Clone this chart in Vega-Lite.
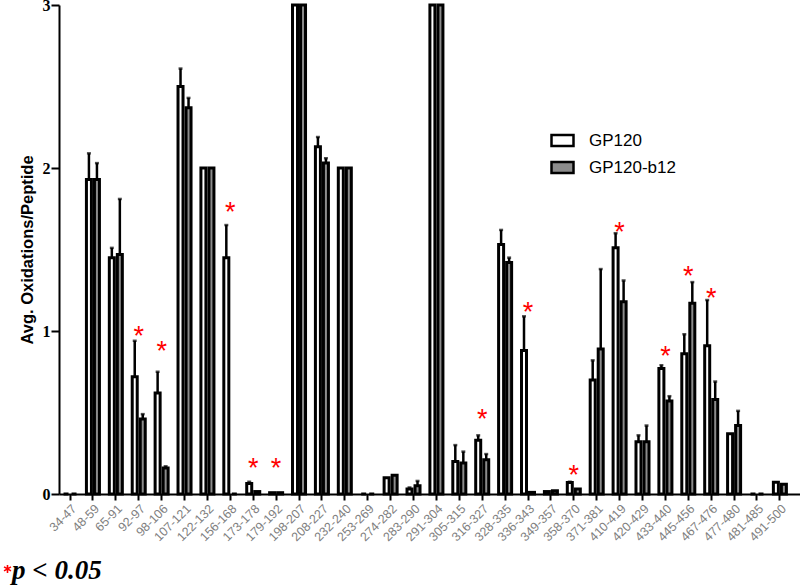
{
  "$schema": "https://vega.github.io/schema/vega-lite/v6.json",
  "width": 741,
  "height": 489,
  "autosize": "none",
  "padding": {"left": 59, "top": 5, "right": 0, "bottom": 93},
  "background": "white",
  "config": {"view": {"stroke": null}},
  "data": {"values": [
    {"pep": "34-47", "s": "GP120", "v": 0},
    {"pep": "34-47", "s": "GP120-b12", "v": 0},
    {"pep": "48-59", "s": "GP120", "v": 1.93, "hi": 2.09},
    {"pep": "48-59", "s": "GP120-b12", "v": 1.93, "hi": 2.03},
    {"pep": "65-91", "s": "GP120", "v": 1.45, "hi": 1.51},
    {"pep": "65-91", "s": "GP120-b12", "v": 1.47, "hi": 1.81},
    {"pep": "92-97", "s": "GP120", "v": 0.72, "hi": 0.94, "star": 1.008, "sig": "p < 0.05"},
    {"pep": "92-97", "s": "GP120-b12", "v": 0.46, "hi": 0.49},
    {"pep": "98-106", "s": "GP120", "v": 0.62, "hi": 0.75, "star": 0.916, "sig": "p < 0.05"},
    {"pep": "98-106", "s": "GP120-b12", "v": 0.16, "hi": 0.17},
    {"pep": "107-121", "s": "GP120", "v": 2.5, "hi": 2.61},
    {"pep": "107-121", "s": "GP120-b12", "v": 2.37, "hi": 2.43},
    {"pep": "122-132", "s": "GP120", "v": 2.0},
    {"pep": "122-132", "s": "GP120-b12", "v": 2.0},
    {"pep": "156-168", "s": "GP120", "v": 1.45, "hi": 1.65, "star": 1.766, "sig": "p < 0.05"},
    {"pep": "156-168", "s": "GP120-b12", "v": 0},
    {"pep": "173-178", "s": "GP120", "v": 0.065, "hi": 0.075, "star": 0.195, "sig": "p < 0.05"},
    {"pep": "173-178", "s": "GP120-b12", "v": 0.015},
    {"pep": "179-192", "s": "GP120", "v": 0.008, "star": 0.195, "sig": "p < 0.05"},
    {"pep": "179-192", "s": "GP120-b12", "v": 0.008},
    {"pep": "198-207", "s": "GP120", "v": 3},
    {"pep": "198-207", "s": "GP120-b12", "v": 3},
    {"pep": "208-227", "s": "GP120", "v": 2.13, "hi": 2.19},
    {"pep": "208-227", "s": "GP120-b12", "v": 2.03, "hi": 2.06},
    {"pep": "232-240", "s": "GP120", "v": 2.0},
    {"pep": "232-240", "s": "GP120-b12", "v": 2.0},
    {"pep": "253-269", "s": "GP120", "v": 0},
    {"pep": "253-269", "s": "GP120-b12", "v": 0},
    {"pep": "274-282", "s": "GP120", "v": 0.1},
    {"pep": "274-282", "s": "GP120-b12", "v": 0.115},
    {"pep": "283-290", "s": "GP120", "v": 0.03, "hi": 0.04},
    {"pep": "283-290", "s": "GP120-b12", "v": 0.05, "hi": 0.08},
    {"pep": "291-304", "s": "GP120", "v": 3},
    {"pep": "291-304", "s": "GP120-b12", "v": 3},
    {"pep": "305-315", "s": "GP120", "v": 0.2, "hi": 0.3},
    {"pep": "305-315", "s": "GP120-b12", "v": 0.19, "hi": 0.26},
    {"pep": "316-327", "s": "GP120", "v": 0.33, "hi": 0.36, "star": 0.496, "sig": "p < 0.05"},
    {"pep": "316-327", "s": "GP120-b12", "v": 0.21, "hi": 0.245},
    {"pep": "328-335", "s": "GP120", "v": 1.53, "hi": 1.62},
    {"pep": "328-335", "s": "GP120-b12", "v": 1.42, "hi": 1.45},
    {"pep": "336-343", "s": "GP120", "v": 0.88, "hi": 1.09, "star": 1.155, "sig": "p < 0.05"},
    {"pep": "336-343", "s": "GP120-b12", "v": 0.01},
    {"pep": "349-357", "s": "GP120", "v": 0.015},
    {"pep": "349-357", "s": "GP120-b12", "v": 0.02},
    {"pep": "358-370", "s": "GP120", "v": 0.07, "hi": 0.075, "star": 0.154, "sig": "p < 0.05"},
    {"pep": "358-370", "s": "GP120-b12", "v": 0.03},
    {"pep": "371-381", "s": "GP120", "v": 0.7, "hi": 0.82},
    {"pep": "371-381", "s": "GP120-b12", "v": 0.89, "hi": 1.38},
    {"pep": "410-419", "s": "GP120", "v": 1.51, "hi": 1.6, "star": 1.643, "sig": "p < 0.05"},
    {"pep": "410-419", "s": "GP120-b12", "v": 1.18, "hi": 1.31},
    {"pep": "420-429", "s": "GP120", "v": 0.32, "hi": 0.36},
    {"pep": "420-429", "s": "GP120-b12", "v": 0.32, "hi": 0.42},
    {"pep": "433-440", "s": "GP120", "v": 0.77, "hi": 0.79, "star": 0.885, "sig": "p < 0.05"},
    {"pep": "433-440", "s": "GP120-b12", "v": 0.57, "hi": 0.6},
    {"pep": "445-456", "s": "GP120", "v": 0.86, "hi": 0.98, "star": 1.372, "sig": "p < 0.05"},
    {"pep": "445-456", "s": "GP120-b12", "v": 1.17, "hi": 1.3},
    {"pep": "467-476", "s": "GP120", "v": 0.91, "hi": 1.19, "star": 1.24, "sig": "p < 0.05"},
    {"pep": "467-476", "s": "GP120-b12", "v": 0.58, "hi": 0.69},
    {"pep": "477-480", "s": "GP120", "v": 0.37},
    {"pep": "477-480", "s": "GP120-b12", "v": 0.42, "hi": 0.51},
    {"pep": "481-485", "s": "GP120", "v": 0},
    {"pep": "481-485", "s": "GP120-b12", "v": 0},
    {"pep": "491-500", "s": "GP120", "v": 0.072},
    {"pep": "491-500", "s": "GP120-b12", "v": 0.06}
  ]},
  "encoding": {
    "x": {
      "field": "pep", "type": "nominal", "sort": null,
      "scale": {
        "domain": ["34-47","48-59","65-91","92-97","98-106","107-121","122-132","156-168","173-178","179-192","198-207","208-227","232-240","253-269","274-282","283-290","291-304","305-315","316-327","328-335","336-343","349-357","358-370","371-381","410-419","420-429","433-440","445-456","467-476","477-480","481-485","491-500"],
        "paddingInner": 0.3, "paddingOuter": 0.33, "align": 0.2
      },
      "axis": {
        "title": null, "labelAngle": -45, "labelColor": "#808080", "labelFont": "Liberation Sans",
        "labelFontSize": 12.5, "labelPadding": 2, "tickSize": 6, "tickWidth": 2, "tickColor": "black",
        "domainColor": "black", "domainWidth": 2, "grid": false
      }
    }
  },
  "layer": [
    {
      "mark": {"type": "bar", "size": 5, "stroke": "black", "strokeWidth": 3},
      "encoding": {
        "xOffset": {"field": "s", "type": "nominal", "scale": {"domain": ["GP120", "GP120-b12"]}},
        "y": {
          "field": "v", "type": "quantitative",
          "scale": {"domain": [0, 3], "nice": false},
          "axis": {
            "title": "Avg. Oxidations/Peptide", "titleFont": "Liberation Sans", "titleFontSize": 16.5,
            "titleFontWeight": "bold", "titleColor": "black", "titlePadding": 7,
            "values": [0, 1, 2, 3], "format": "d", "labelFont": "Liberation Serif", "labelFontSize": 16,
            "labelFontWeight": "bold", "labelColor": "black", "labelPadding": 1, "tickSize": 8,
            "tickWidth": 2, "tickColor": "black", "domainColor": "black", "domainWidth": 2, "grid": false
          }
        },
        "fill": {
          "field": "s", "type": "nominal",
          "scale": {"domain": ["GP120", "GP120-b12"], "range": ["#ffffff", "#8c8c8c"]},
          "legend": {
            "title": null, "orient": "none", "legendX": 491, "legendY": 123, "padding": 0,
            "symbolType": "M-1,-0.5H1V0.5H-1Z", "symbolSize": 484, "symbolStrokeWidth": 2.5,
            "symbolStrokeColor": "black", "labelFont": "Liberation Sans", "labelFontSize": 17,
            "labelColor": "black", "labelOffset": 14, "rowPadding": 4,
            "encode": {"symbols": {"update": {"stroke": {"value": "black"}, "strokeWidth": {"value": 2.5}}}}
          }
        }
      }
    },
    {
      "transform": [{"filter": "datum.hi != null"}],
      "mark": {"type": "rule", "color": "black", "strokeWidth": 2.5},
      "encoding": {
        "xOffset": {"field": "s", "type": "nominal", "scale": {"domain": ["GP120", "GP120-b12"]}},
        "y": {"field": "v", "type": "quantitative"},
        "y2": {"field": "hi"}
      }
    },
    {
      "transform": [{"filter": "datum.hi != null"}],
      "mark": {"type": "tick", "color": "black", "size": 4, "thickness": 2.5, "orient": "horizontal"},
      "encoding": {
        "xOffset": {"field": "s", "type": "nominal", "scale": {"domain": ["GP120", "GP120-b12"]}},
        "y": {"field": "hi", "type": "quantitative"}
      }
    },
    {
      "transform": [{"filter": "datum.star != null"}],
      "mark": {"type": "text", "text": "*", "font": "Liberation Sans", "fontSize": 27, "baseline": "middle", "dy": 7},
      "encoding": {
        "y": {"field": "star", "type": "quantitative"},
        "color": {
          "field": "sig", "type": "nominal",
          "scale": {"domain": ["p < 0.05"], "range": ["#ff0000"]},
          "legend": {
            "title": null, "orient": "none", "legendX": -65, "legendY": 552, "padding": 0,
            "symbolType": "M0,-1.4V0.6M-0.87,-0.9L0.87,0.1M-0.87,0.1L0.87,-0.9", "symbolSize": 64,
            "labelFont": "Liberation Serif", "labelFontSize": 27, "labelFontWeight": "bold",
            "labelFontStyle": "italic", "labelColor": "black", "labelOffset": -9,
            "encode": {"symbols": {"update": {"stroke": {"value": "#ff0000"}, "strokeWidth": {"value": 1.6}, "fill": {"value": "transparent"}}}}
          }
        }
      }
    }
  ]
}
